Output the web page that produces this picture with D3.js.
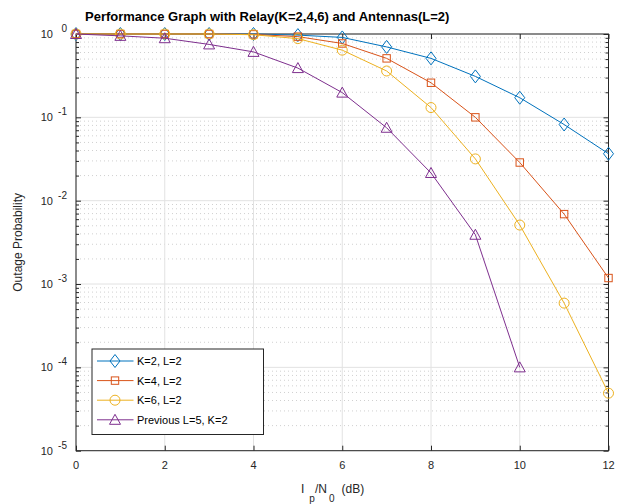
<!DOCTYPE html>
<html>
<head>
<meta charset="utf-8">
<script src="https://cdn.jsdelivr.net/npm/d3@7"></script>
<style>
  body { margin: 0; background: #fff; }
  text { font-family: "Liberation Sans", Arial, Helvetica, sans-serif; fill: #262626; }
  .grid-major { stroke: #e2e2e2; stroke-width: 1; }
  .grid-minor { stroke: #d0d0d0; stroke-width: 1; stroke-dasharray: 1,3; }
</style>
</head>
<body>
<div class="container"></div>
<script>
// ---------- DATA ----------
var snr = [0, 1, 2, 3, 4, 5, 6, 7, 8, 9, 10, 11, 12]
var snrPrev = [0, 1, 2, 3, 4, 5, 6, 7, 8, 9, 10]

var k2 = [1, 1, 1, 1, 1, 0.97, 0.91, 0.70, 0.51, 0.31, 0.172, 0.082, 0.0366]
var k4 = [1, 1, 1, 1, 0.99, 0.93, 0.77, 0.51, 0.26, 0.10, 0.0287, 0.0069, 0.00118]
var k6 = [1, 1, 1, 1, 0.98, 0.88, 0.64, 0.36, 0.131, 0.0317, 0.0051, 0.00059, 0.000049]
var prev = [1, 0.95, 0.89, 0.75, 0.61, 0.39, 0.198, 0.075, 0.0215, 0.0039, 0.0001]

var seriesNames = ["K=2, L=2", "K=4, L=2", "K=6, L=2", "Previous L=5, K=2"]
var xTicks = [0, 2, 4, 6, 8, 10, 12]
var yExps = [0, -1, -2, -3, -4, -5]

var series = [
  { name: seriesNames[0], x: snr, y: k2, color: "#0072BD", marker: "diamond" },
  { name: seriesNames[1], x: snr, y: k4, color: "#D95319", marker: "square" },
  { name: seriesNames[2], x: snr, y: k6, color: "#EDB120", marker: "circle" },
  { name: seriesNames[3], x: snrPrev, y: prev, color: "#7E2F8E", marker: "triangle" }
]

var margin = { top: 34, right: 10, bottom: 53, left: 76 },
  W = 618, H = 504,
  width = 532.5,
  height = 416.7;

var svg = d3.select(".container").append("svg")
    .attr("width", W)
    .attr("height", H)

var g = svg.append("g")
    .attr("transform", "translate(" + margin.left + "," + margin.top + ")")

var x = d3.scaleLinear().domain([0, 12]).range([0, width])
var y = d3.scaleLog().domain([1e-5, 1]).range([height, 0])

// ---------- GRID ----------
var minorVals = []
yExps.slice(0, 5).forEach(function(e) {
  for (var m = 2; m <= 9; m++) minorVals.push(m * Math.pow(10, e - 1))
})

g.append("g").selectAll("line")
  .data(minorVals)
  .enter().append("line")
  .attr("class", "grid-minor")
  .attr("x1", 0).attr("x2", width)
  .attr("y1", function(d) { return y(d) }).attr("y2", function(d) { return y(d) })

g.append("g").selectAll("line")
  .data(xTicks)
  .enter().append("line")
  .attr("class", "grid-major")
  .attr("x1", function(d) { return x(d) }).attr("x2", function(d) { return x(d) })
  .attr("y1", 0).attr("y2", height)

g.append("g").selectAll("line")
  .data(yExps)
  .enter().append("line")
  .attr("class", "grid-major")
  .attr("x1", 0).attr("x2", width)
  .attr("y1", function(d) { return y(Math.pow(10, d)) }).attr("y2", function(d) { return y(Math.pow(10, d)) })

// ---------- AXES ----------
var axisColor = "#262626"

function styleAxis(sel) {
  sel.select(".domain").remove()
  sel.selectAll(".tick line").attr("stroke", axisColor)
  sel.selectAll(".tick text").remove()
}

g.append("g")
  .attr("transform", "translate(0," + height + ")")
  .call(d3.axisBottom(x).tickValues(xTicks).tickSize(-5))
  .call(styleAxis)

g.append("g")
  .call(d3.axisTop(x).tickValues(xTicks).tickSize(-5))
  .call(styleAxis)

var yMajor = yExps.map(function(e) { return Math.pow(10, e) })

g.append("g")
  .call(d3.axisLeft(y).tickValues(yMajor).tickSize(-5))
  .call(styleAxis)
g.append("g")
  .call(d3.axisLeft(y).tickValues(minorVals).tickSize(-3))
  .call(styleAxis)
g.append("g")
  .attr("transform", "translate(" + width + ",0)")
  .call(d3.axisRight(y).tickValues(yMajor).tickSize(-5))
  .call(styleAxis)
g.append("g")
  .attr("transform", "translate(" + width + ",0)")
  .call(d3.axisRight(y).tickValues(minorVals).tickSize(-3))
  .call(styleAxis)

g.append("rect")
  .attr("width", width)
  .attr("height", height)
  .attr("fill", "none")
  .attr("stroke", axisColor)
  .attr("stroke-width", 1)

// tick labels
g.selectAll(".xlab")
  .data(xTicks)
  .enter().append("text")
  .attr("class", "xlab")
  .attr("x", function(d) { return x(d) })
  .attr("y", height + 18)
  .attr("text-anchor", "middle")
  .style("font-size", "11px")
  .text(function(d) { return d })

var ylab = g.selectAll(".ylab")
  .data(yExps)
  .enter().append("g")
  .attr("class", "ylab")
  .attr("transform", function(d) { return "translate(0," + y(Math.pow(10, d)) + ")" })

ylab.append("text")
  .attr("x", -23)
  .attr("y", 4)
  .attr("text-anchor", "end")
  .style("font-size", "11px")
  .text("10")

ylab.append("text")
  .attr("x", -9)
  .attr("y", -2)
  .attr("text-anchor", "end")
  .style("font-size", "10px")
  .text(function(d) { return d })

// axis titles
svg.append("text")
  .attr("transform", "translate(22," + (margin.top + height / 2) + ") rotate(-90)")
  .attr("text-anchor", "middle")
  .style("font-size", "12px")
  .text("Outage Probability")

var xt = svg.append("text")
  .attr("x", 301)
  .attr("y", 493)
  .style("font-size", "12px")
xt.append("tspan").text("I")
xt.append("tspan").attr("dx", 5).attr("dy", 9).style("font-size", "10px").text("p")
xt.append("tspan").attr("dx", 0).attr("dy", -9).text("/N")
xt.append("tspan").attr("dx", 2).attr("dy", 9).style("font-size", "10px").text("0")
xt.append("tspan").attr("dx", 7).attr("dy", -9).text("(dB)")

// title
svg.append("text")
  .attr("x", 85)
  .attr("y", 21)
  .style("font-size", "13px")
  .style("font-weight", "bold")
  .style("fill", "#000")
  .text("Performance Graph with Relay(K=2,4,6) and Antennas(L=2)")

// ---------- SERIES ----------
var symbols = {
  diamond: function(sel) { sel.append("path").attr("d", "M0,-6.5L5,0L0,6.5L-5,0Z") },
  square: function(sel) { sel.append("rect").attr("x", -3.7).attr("y", -3.7).attr("width", 7.4).attr("height", 7.4) },
  circle: function(sel) { sel.append("circle").attr("r", 5) },
  triangle: function(sel) { sel.append("path").attr("d", "M0,-5.5L5.5,4.5L-5.5,4.5Z") }
}

var line = d3.line()
  .x(function(d) { return x(d[0]) })
  .y(function(d) { return y(d[1]) })

series.forEach(function(s) {
  var pts = s.x.map(function(v, i) { return [v, s.y[i]] })
  var sg = g.append("g")
  sg.append("path")
    .datum(pts)
    .attr("d", line)
    .attr("fill", "none")
    .attr("stroke", s.color)
    .attr("stroke-width", 1)
  sg.selectAll(".mk")
    .data(pts)
    .enter().append("g")
    .attr("class", "mk")
    .attr("transform", function(d) { return "translate(" + x(d[0]) + "," + y(d[1]) + ")" })
    .each(function() { symbols[s.marker](d3.select(this)) })
    .selectAll("*")
    .attr("fill", "none")
    .attr("stroke", s.color)
    .attr("stroke-width", 1)
})

// ---------- LEGEND ----------
var legend = svg.append("g")
  .attr("transform", "translate(92,349)")

legend.append("rect")
  .attr("width", 171.5)
  .attr("height", 85.5)
  .attr("fill", "#fff")
  .attr("stroke", axisColor)
  .attr("stroke-width", 1)

var item = legend.selectAll(".item")
  .data(series)
  .enter().append("g")
  .attr("class", "item")
  .attr("transform", function(d, i) { return "translate(0," + (12 + i * 19.6) + ")" })

item.append("line")
  .attr("x1", 5).attr("x2", 41.5)
  .attr("stroke", function(d) { return d.color })
  .attr("stroke-width", 1)

item.append("g")
  .attr("transform", "translate(23,0)")
  .each(function(d) { symbols[d.marker](d3.select(this)) })
  .selectAll("*")
  .attr("fill", "none")
  .attr("stroke", function() { return d3.select(this.parentNode).datum().color })
  .attr("stroke-width", 1)

item.append("text")
  .attr("x", 45)
  .attr("y", 4)
  .style("font-size", "11px")
  .style("fill", "#000")
  .text(function(d) { return d.name })
</script>
</body>
</html>
